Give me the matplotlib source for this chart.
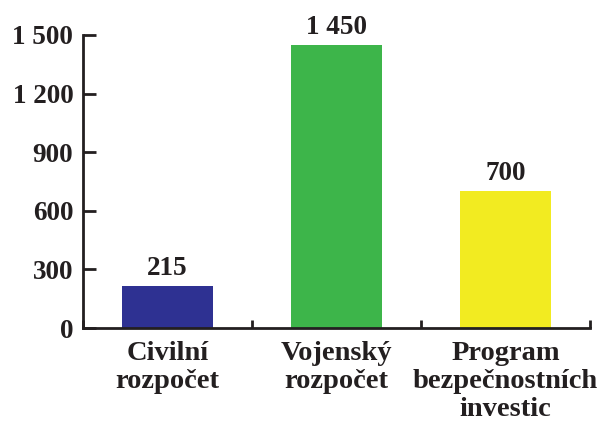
import matplotlib.pyplot as plt
import numpy as np

# data
categories = ['Civilní\nrozpočet', 'Vojenský\nrozpočet', 'Program\nbezpečnostních\ninvestic']
values = [215, 1450, 700]
value_labels = ['215', '1 450', '700']
colors = ['#2E3192', '#3DB54A', '#F2EB21']
yticks = [0, 300, 600, 900, 1200, 1500]
ytick_labels = ['0', '300', '600', '900', '1 200', '1 500']

txt = '#231F20'
plt.rcParams['font.family'] = ['Liberation Serif', 'DejaVu Serif']
plt.rcParams['font.weight'] = 'bold'

fig = plt.figure(figsize=(6.03, 4.23), dpi=100)
ax = fig.add_axes([83 / 603, 1 - 328 / 423, 507 / 603, 293 / 423])

x = np.arange(len(values))
bars = ax.bar(x, values, width=0.54, color=colors, zorder=2)
for xi, v, lab in zip(x, values, value_labels):
    ax.annotate(lab, (xi, v), xytext=(0, 3.5), textcoords='offset points',
                ha='center', va='bottom', fontsize=19.5, fontweight='bold', color=txt)

ax.set_xlim(-0.5, len(values) - 0.5)
ax.set_ylim(0, 1500)

# y osa
ax.set_yticks(yticks)
ax.set_yticklabels(ytick_labels, fontsize=19.5, fontweight='bold', color=txt)
ax.tick_params(axis='y', direction='in', length=9, width=2, color=txt, pad=7)

# x osa - popisky uprostred, carky na hranicich
ax.set_xticks(x)
ax.set_xticklabels(categories, fontsize=20.5, fontweight='bold', color=txt, linespacing=1.17)
ax.tick_params(axis='x', which='major', length=0, pad=9)
ax.set_xticks(np.arange(-0.5, len(values)), minor=True)
ax.tick_params(axis='x', which='minor', direction='in', length=6, width=2, color=txt)

for s in ['top', 'right']:
    ax.spines[s].set_visible(False)
for s in ['left', 'bottom']:
    ax.spines[s].set_linewidth(2)
    ax.spines[s].set_color(txt)

fig.savefig('out.png', dpi=100)
